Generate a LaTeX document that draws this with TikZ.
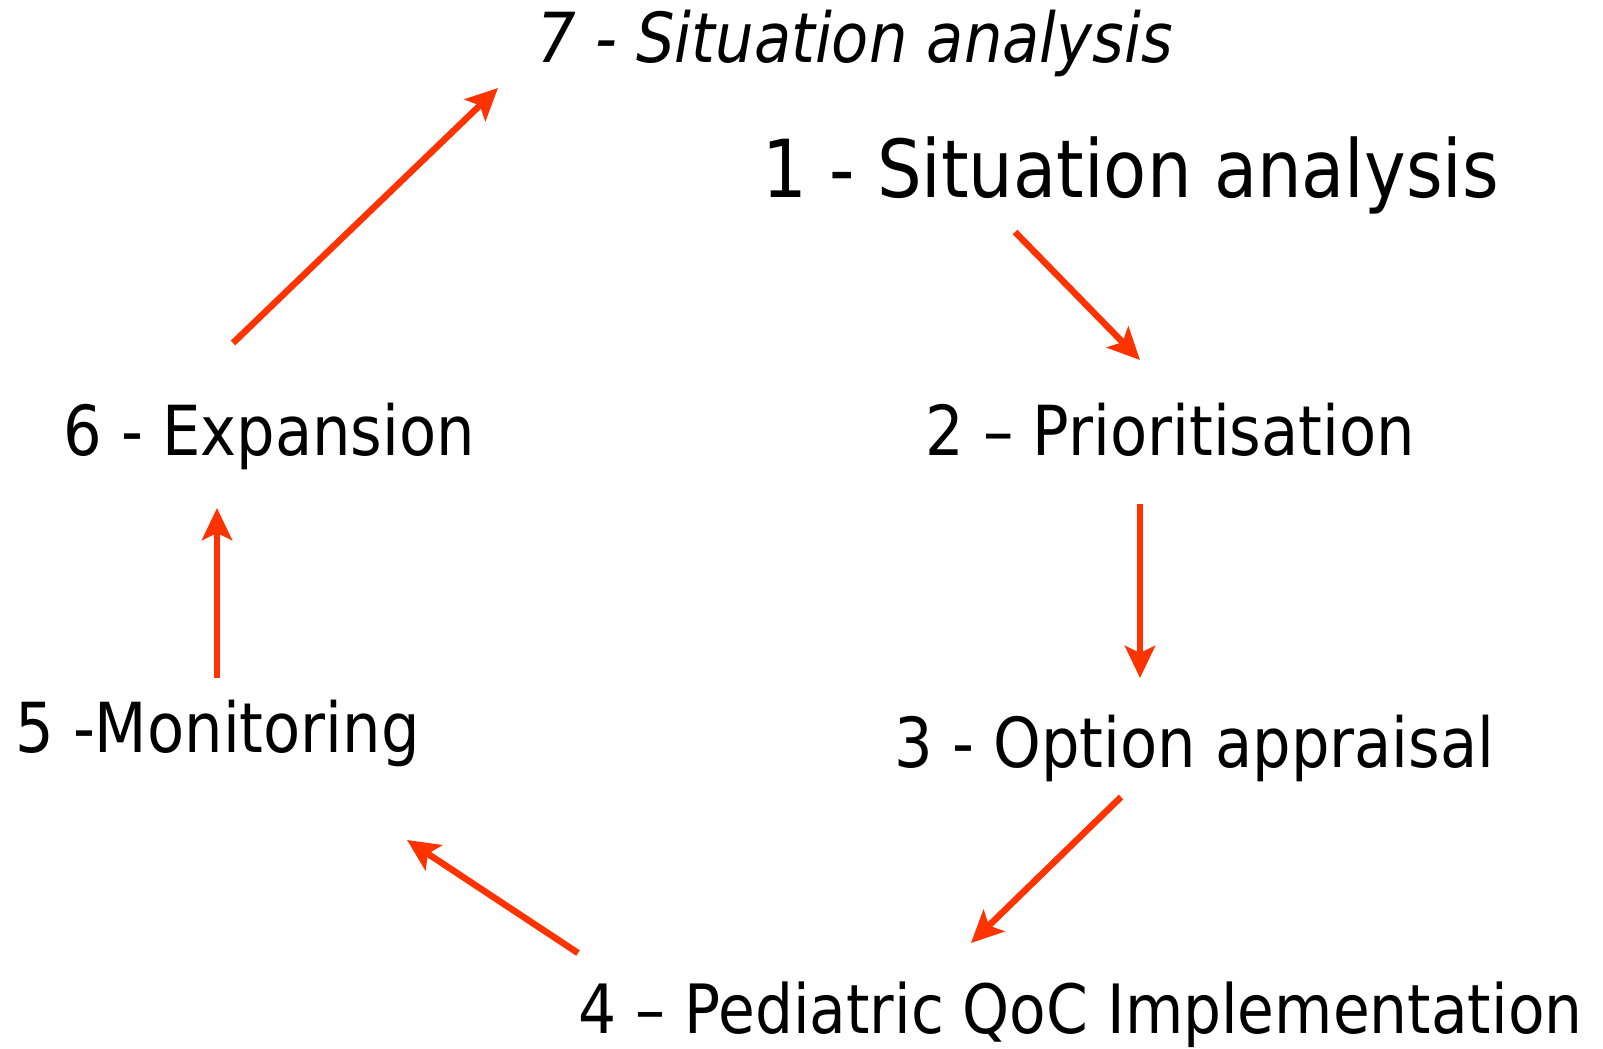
\documentclass[tikz,border=0pt]{standalone}
\usepackage{fontspec}
\setmainfont{DejaVu Sans}[FakeStretch=0.88]
\usetikzlibrary{arrows.meta}
\definecolor{cyclered}{HTML}{FF3300}

\begin{document}
\begin{tikzpicture}[x=1pt,y=-1pt,
    every node/.style={inner sep=0pt,anchor=base west},
    stage/.style={font=\fontsize{69}{80}\selectfont},
    flow/.style={draw=cyclered,line width=6.5pt,
      -{Stealth[length=32pt,width=30pt,inset=7pt]}}]
    \useasboundingbox (0,0) rectangle (1603,1049);
    % stages of the cycle
    \node[stage,font=\fontsize{69}{80}\selectfont\itshape] (s7) at (537,63) {7 - Situation analysis};
    \node[stage,font=\fontsize{80}{96}\selectfont] (s1) at (762,197) {1 - Situation analysis};
    \node[stage] (s2) at (925,455) {2 -- Prioritisation};
    \node[stage] (s3) at (894,767) {3 - Option appraisal};
    \node[stage,font=\fontsize{68}{80}\selectfont] (s4) at (578,1033) {4 -- Pediatric QoC Implementation};
    \node[stage] (s5) at (15,752) {5 -Monitoring};
    \node[stage] (s6) at (63,455) {6 - Expansion};
    % arrow ends
    \coordinate (a12) at (1015,232); \coordinate (b12) at (1140,360);
    \coordinate (a23) at (1140,504); \coordinate (b23) at (1140,678);
    \coordinate (a34) at (1121,797); \coordinate (b34) at (971,943);
    \coordinate (a45) at (578,953);  \coordinate (b45) at (407,840);
    \coordinate (a56) at (217,678);  \coordinate (b56) at (217,508);
    \coordinate (a67) at (233,343);  \coordinate (b67) at (498,88);
    \draw[flow] (a12) -- (b12);
    \draw[flow] (a23) -- (b23);
    \draw[flow] (a34) -- (b34);
    \draw[flow] (a45) -- (b45);
    \draw[flow] (a56) -- (b56);
    \draw[flow] (a67) -- (b67);
\end{tikzpicture}
\end{document}
